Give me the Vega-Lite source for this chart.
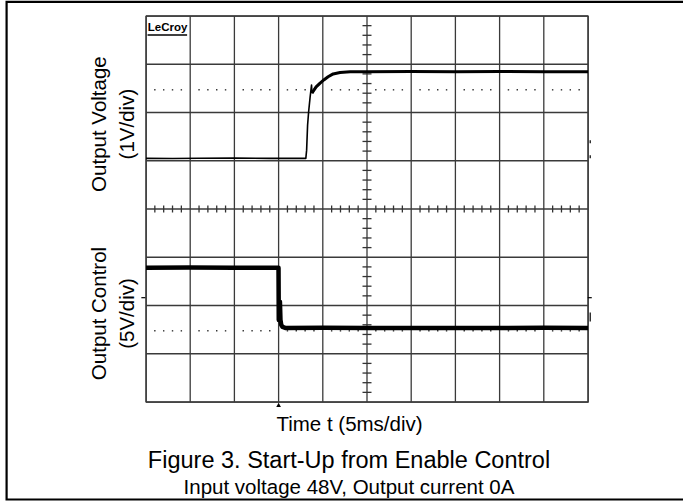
{
  "$schema": "https://vega.github.io/schema/vega-lite/v6.json",
  "width": 442,
  "height": 386,
  "autosize": {"type": "none"},
  "padding": {"left": 146, "top": 16, "right": 95, "bottom": 100},
  "background": "white",
  "config": {
    "view": {"stroke": "#3a3a3a", "strokeWidth": 1.3},
    "font": "Liberation Sans"
  },
  "title": {
    "text": "Figure 3. Start-Up from Enable Control",
    "subtitle": "Input voltage 48V, Output current 0A",
    "orient": "bottom",
    "anchor": "middle",
    "dx": -18,
    "offset": -52,
    "font": "Liberation Sans",
    "fontSize": 23.5,
    "fontWeight": "normal",
    "color": "black",
    "subtitleFont": "Liberation Sans",
    "subtitleFontSize": 20.5,
    "subtitleColor": "black",
    "subtitlePadding": 6
  },
  "datasets": {
    "gridX": [{"g": 0}, {"g": 1}, {"g": 2}, {"g": 3}, {"g": 4}, {"g": 5}, {"g": 6}, {"g": 7}, {"g": 8}, {"g": 9}, {"g": 10}],
    "gridY": [{"g": 0}, {"g": 1}, {"g": 2}, {"g": 3}, {"g": 4}, {"g": 5}, {"g": 6}, {"g": 7}, {"g": 8}],
    "minorX": [
      {"p": 0.2}, {"p": 0.4}, {"p": 0.6}, {"p": 0.8},
      {"p": 1.2}, {"p": 1.4}, {"p": 1.6}, {"p": 1.8},
      {"p": 2.2}, {"p": 2.4}, {"p": 2.6}, {"p": 2.8},
      {"p": 3.2}, {"p": 3.4}, {"p": 3.6}, {"p": 3.8},
      {"p": 4.2}, {"p": 4.4}, {"p": 4.6}, {"p": 4.8},
      {"p": 5.2}, {"p": 5.4}, {"p": 5.6}, {"p": 5.8},
      {"p": 6.2}, {"p": 6.4}, {"p": 6.6}, {"p": 6.8},
      {"p": 7.2}, {"p": 7.4}, {"p": 7.6}, {"p": 7.8},
      {"p": 8.2}, {"p": 8.4}, {"p": 8.6}, {"p": 8.8},
      {"p": 9.2}, {"p": 9.4}, {"p": 9.6}, {"p": 9.8}
    ],
    "minorY": [
      {"p": 0.2}, {"p": 0.4}, {"p": 0.6}, {"p": 0.8},
      {"p": 1.2}, {"p": 1.4}, {"p": 1.6}, {"p": 1.8},
      {"p": 2.2}, {"p": 2.4}, {"p": 2.6}, {"p": 2.8},
      {"p": 3.2}, {"p": 3.4}, {"p": 3.6}, {"p": 3.8},
      {"p": 4.2}, {"p": 4.4}, {"p": 4.6}, {"p": 4.8},
      {"p": 5.2}, {"p": 5.4}, {"p": 5.6}, {"p": 5.8},
      {"p": 6.2}, {"p": 6.4}, {"p": 6.6}, {"p": 6.8},
      {"p": 7.2}, {"p": 7.4}, {"p": 7.6}, {"p": 7.8}
    ],
    "traces": [
      {"t": 0.0, "v": 5.05, "seg": "thin"},
      {"t": 0.6, "v": 5.048, "seg": "thin"},
      {"t": 1.2, "v": 5.052, "seg": "thin"},
      {"t": 2.0, "v": 5.055, "seg": "thin"},
      {"t": 2.8, "v": 5.05, "seg": "thin"},
      {"t": 3.616, "v": 5.05, "seg": "thin"},
      {"t": 3.634, "v": 5.22, "seg": "thin"},
      {"t": 3.656, "v": 5.74, "seg": "thin"},
      {"t": 3.679, "v": 6.01, "seg": "thin"},
      {"t": 3.713, "v": 6.32, "seg": "thin"},
      {"t": 3.745, "v": 6.57, "seg": "thin"},
      {"t": 3.755, "v": 6.4, "seg": "thin"},
      {"t": 3.755, "v": 6.4, "seg": "thick"},
      {"t": 3.781, "v": 6.44, "seg": "thick"},
      {"t": 3.849, "v": 6.53, "seg": "thick"},
      {"t": 3.939, "v": 6.61, "seg": "thick"},
      {"t": 4.03, "v": 6.68, "seg": "thick"},
      {"t": 4.12, "v": 6.74, "seg": "thick"},
      {"t": 4.234, "v": 6.8, "seg": "thick"},
      {"t": 4.39, "v": 6.83, "seg": "thick"},
      {"t": 4.62, "v": 6.845, "seg": "thick"},
      {"t": 5.0, "v": 6.845, "seg": "thick"},
      {"t": 6.0, "v": 6.848, "seg": "thick"},
      {"t": 7.0, "v": 6.845, "seg": "thick"},
      {"t": 8.0, "v": 6.85, "seg": "thick"},
      {"t": 9.0, "v": 6.845, "seg": "thick"},
      {"t": 10.0, "v": 6.845, "seg": "thick"},
      {"t": 0.0, "v": 2.783, "seg": "ctl"},
      {"t": 1.0, "v": 2.785, "seg": "ctl"},
      {"t": 2.0, "v": 2.783, "seg": "ctl"},
      {"t": 2.998, "v": 2.783, "seg": "ctl"},
      {"t": 3.004, "v": 1.7, "seg": "ctl"},
      {"t": 3.018, "v": 1.75, "seg": "ctl"},
      {"t": 3.03, "v": 2.08, "seg": "ctl"},
      {"t": 3.042, "v": 1.7, "seg": "ctl"},
      {"t": 3.06, "v": 1.6, "seg": "ctl"},
      {"t": 3.09, "v": 1.555, "seg": "ctl"},
      {"t": 3.15, "v": 1.535, "seg": "ctl"},
      {"t": 4.0, "v": 1.537, "seg": "ctl"},
      {"t": 5.0, "v": 1.535, "seg": "ctl"},
      {"t": 6.0, "v": 1.533, "seg": "ctl"},
      {"t": 7.0, "v": 1.535, "seg": "ctl"},
      {"t": 8.0, "v": 1.535, "seg": "ctl"},
      {"t": 9.0, "v": 1.537, "seg": "ctl"},
      {"t": 10.0, "v": 1.535, "seg": "ctl"}
    ]
  },
  "layer": [
    {
      "data": {"name": "gridX"},
      "mark": {"type": "rule", "color": "#3a3a3a", "strokeWidth": 1.3},
      "encoding": {
        "x": {"field": "g", "type": "quantitative", "scale": {"domain": [0, 10], "nice": false, "zero": false}, "axis": null}
      }
    },
    {
      "data": {"name": "gridY"},
      "mark": {"type": "rule", "color": "#3a3a3a", "strokeWidth": 1.3},
      "encoding": {
        "y": {"field": "g", "type": "quantitative", "scale": {"domain": [0, 8], "nice": false, "zero": false}, "axis": null}
      }
    },
    {
      "data": {"name": "minorX"},
      "mark": {"type": "tick", "orient": "vertical", "size": 7, "thickness": 1.3, "color": "#333", "opacity": 1},
      "encoding": {
        "x": {"field": "p", "type": "quantitative", "scale": {"domain": [0, 10], "nice": false, "zero": false}, "axis": null},
        "y": {"datum": 4, "type": "quantitative", "scale": {"domain": [0, 8], "nice": false, "zero": false}, "axis": null}
      }
    },
    {
      "data": {"name": "minorY"},
      "mark": {"type": "tick", "orient": "horizontal", "size": 9, "thickness": 1.3, "color": "#333", "opacity": 1},
      "encoding": {
        "x": {"datum": 5, "type": "quantitative", "scale": {"domain": [0, 10], "nice": false, "zero": false}, "axis": null},
        "y": {"field": "p", "type": "quantitative", "scale": {"domain": [0, 8], "nice": false, "zero": false}, "axis": null}
      }
    },
    {
      "data": {"name": "minorX"},
      "mark": {"type": "square", "size": 2, "color": "#333", "opacity": 1},
      "encoding": {
        "x": {"field": "p", "type": "quantitative", "scale": {"domain": [0, 10], "nice": false, "zero": false}, "axis": null},
        "y": {"datum": 6.47, "type": "quantitative", "scale": {"domain": [0, 8], "nice": false, "zero": false}, "axis": null}
      }
    },
    {
      "data": {"name": "minorX"},
      "mark": {"type": "square", "size": 2, "color": "#333", "opacity": 1},
      "encoding": {
        "x": {"field": "p", "type": "quantitative", "scale": {"domain": [0, 10], "nice": false, "zero": false}, "axis": null},
        "y": {"datum": 1.475, "type": "quantitative", "scale": {"domain": [0, 8], "nice": false, "zero": false}, "axis": null}
      }
    },
    {
      "data": {"name": "traces"},
      "mark": {"type": "line", "color": "black", "strokeJoin": "round"},
      "encoding": {
        "x": {"field": "t", "type": "quantitative", "scale": {"domain": [0, 10], "nice": false, "zero": false}, "axis": null},
        "y": {"field": "v", "type": "quantitative", "scale": {"domain": [0, 8], "nice": false, "zero": false}, "axis": null},
        "strokeWidth": {"field": "seg", "type": "nominal", "scale": {"domain": ["thin", "thick", "ctl"], "range": [1.6, 4.5, 3.3]}, "legend": null}
      }
    },
    {
      "data": {"values": [{}]},
      "mark": {"type": "text", "angle": -90, "fontSize": 20.5, "lineHeight": 28, "align": "center", "baseline": "middle", "font": "Liberation Sans", "color": "black"},
      "encoding": {
        "x": {"datum": -1.04, "type": "quantitative", "scale": {"domain": [0, 10], "nice": false, "zero": false}, "axis": null},
        "y": {"datum": 5.76, "type": "quantitative", "scale": {"domain": [0, 8], "nice": false, "zero": false}, "axis": null},
        "text": {"value": ["Output Voltage", "(1V/div)"]}
      }
    },
    {
      "data": {"values": [{}]},
      "mark": {"type": "text", "angle": -90, "fontSize": 20.5, "lineHeight": 28, "align": "center", "baseline": "middle", "font": "Liberation Sans", "color": "black"},
      "encoding": {
        "x": {"datum": -1.04, "type": "quantitative", "scale": {"domain": [0, 10], "nice": false, "zero": false}, "axis": null},
        "y": {"datum": 1.834, "type": "quantitative", "scale": {"domain": [0, 8], "nice": false, "zero": false}, "axis": null},
        "text": {"value": ["Output Control", "(5V/div)"]}
      }
    },
    {
      "data": {"values": [{}]},
      "mark": {"type": "text", "fontSize": 20.5, "align": "center", "baseline": "alphabetic", "font": "Liberation Sans", "color": "black"},
      "encoding": {
        "x": {"datum": 4.604, "type": "quantitative", "scale": {"domain": [0, 10], "nice": false, "zero": false}, "axis": null},
        "y": {"datum": -0.591, "type": "quantitative", "scale": {"domain": [0, 8], "nice": false, "zero": false}, "axis": null},
        "text": {"value": "Time t (5ms/div)"}
      }
    },
    {
      "data": {"values": [{}]},
      "mark": {"type": "text", "fontSize": 11.5, "fontWeight": "bold", "align": "left", "baseline": "alphabetic", "font": "Liberation Sans", "color": "black"},
      "encoding": {
        "x": {"datum": 0.04, "type": "quantitative", "scale": {"domain": [0, 10], "nice": false, "zero": false}, "axis": null},
        "y": {"datum": 7.69, "type": "quantitative", "scale": {"domain": [0, 8], "nice": false, "zero": false}, "axis": null},
        "text": {"value": "LeCroy"}
      }
    },
    {
      "data": {"values": [{}]},
      "mark": {"type": "rule", "color": "black", "strokeWidth": 1.5},
      "encoding": {
        "x": {"datum": 0.035, "type": "quantitative", "scale": {"domain": [0, 10], "nice": false, "zero": false}, "axis": null},
        "x2": {"datum": 0.93},
        "y": {"datum": 7.606, "type": "quantitative", "scale": {"domain": [0, 8], "nice": false, "zero": false}, "axis": null}
      }
    },
    {
      "data": {"values": [{}]},
      "mark": {"type": "point", "shape": "triangle-up", "size": 22, "filled": true, "color": "black", "opacity": 1, "clip": false},
      "encoding": {
        "x": {"datum": 3.0, "type": "quantitative", "scale": {"domain": [0, 10], "nice": false, "zero": false}, "axis": null},
        "y": {"datum": -0.06, "type": "quantitative", "scale": {"domain": [0, 8], "nice": false, "zero": false}, "axis": null}
      }
    },
    {
      "data": {"values": [{}]},
      "mark": {"type": "tick", "orient": "horizontal", "size": 4, "thickness": 1.2, "color": "black", "opacity": 1, "clip": false},
      "encoding": {
        "x": {"datum": -0.06, "type": "quantitative", "scale": {"domain": [0, 10], "nice": false, "zero": false}, "axis": null},
        "y": {"datum": 2.162, "type": "quantitative", "scale": {"domain": [0, 8], "nice": false, "zero": false}, "axis": null}
      }
    },
    {
      "data": {"values": [{}]},
      "mark": {"type": "tick", "orient": "horizontal", "size": 4, "thickness": 1.2, "color": "black", "opacity": 1, "clip": false},
      "encoding": {
        "x": {"datum": 10.04, "type": "quantitative", "scale": {"domain": [0, 10], "nice": false, "zero": false}, "axis": null},
        "y": {"datum": 2.162, "type": "quantitative", "scale": {"domain": [0, 8], "nice": false, "zero": false}, "axis": null}
      }
    },
    {
      "data": {"values": [{}]},
      "mark": {"type": "tick", "orient": "vertical", "size": 3, "thickness": 1.2, "color": "black", "opacity": 1, "clip": false},
      "encoding": {
        "x": {"datum": 10.05, "type": "quantitative", "scale": {"domain": [0, 10], "nice": false, "zero": false}, "axis": null},
        "y": {"datum": 5.395, "type": "quantitative", "scale": {"domain": [0, 8], "nice": false, "zero": false}, "axis": null}
      }
    },
    {
      "data": {"values": [{}]},
      "mark": {"type": "tick", "orient": "vertical", "size": 3, "thickness": 1.2, "color": "black", "opacity": 1, "clip": false},
      "encoding": {
        "x": {"datum": 10.05, "type": "quantitative", "scale": {"domain": [0, 10], "nice": false, "zero": false}, "axis": null},
        "y": {"datum": 5.084, "type": "quantitative", "scale": {"domain": [0, 8], "nice": false, "zero": false}, "axis": null}
      }
    },
    {
      "data": {"values": [{}]},
      "mark": {"type": "tick", "orient": "vertical", "size": 9, "thickness": 1.2, "color": "black", "opacity": 1, "clip": false, "strokeDash": [2, 2]},
      "encoding": {
        "x": {"datum": 10.05, "type": "quantitative", "scale": {"domain": [0, 10], "nice": false, "zero": false}, "axis": null},
        "y": {"datum": 1.76, "type": "quantitative", "scale": {"domain": [0, 8], "nice": false, "zero": false}, "axis": null}
      }
    },
    {
      "data": {"values": [{}]},
      "mark": {"type": "rect", "fillOpacity": 0, "stroke": "black", "strokeWidth": 2.2, "clip": false},
      "encoding": {
        "x": {"datum": -3.154, "type": "quantitative", "scale": {"domain": [0, 10], "nice": false, "zero": false}, "axis": null},
        "x2": {"datum": 12.32},
        "y": {"datum": 8.294, "type": "quantitative", "scale": {"domain": [0, 8], "nice": false, "zero": false}, "axis": null},
        "y2": {"datum": -2.021}
      }
    }
  ]
}
